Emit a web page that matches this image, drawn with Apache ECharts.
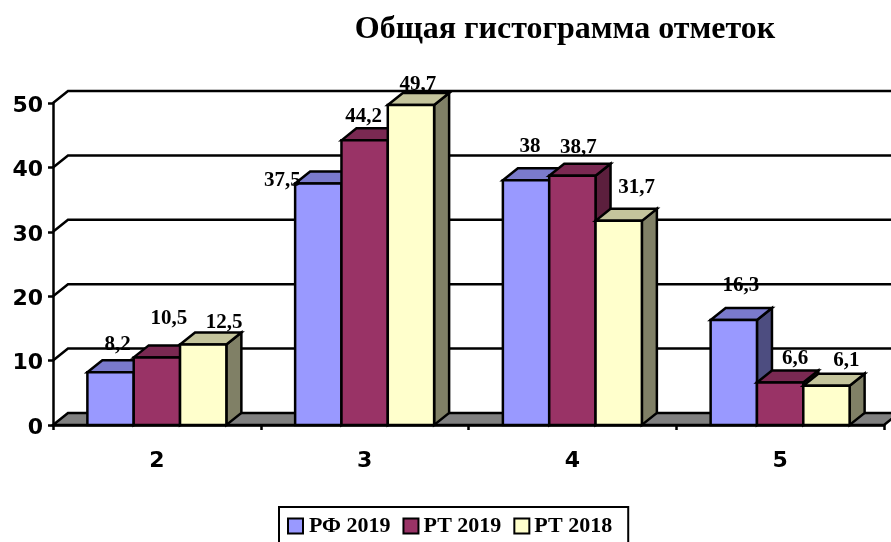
<!DOCTYPE html>
<html><head><meta charset="utf-8">
<style>html,body{margin:0;padding:0;background:#fff}#c{width:891px;height:542px}</style>
<script src="https://cdn.jsdelivr.net/npm/echarts@6/dist/echarts.min.js"></script>
</head><body><div id="c"></div>
<script>
const categories = ['2','3','4','5'];
const rf2019 = [8.2,37.5,38,16.3];
const rt2019 = [10.5,44.2,38.7,6.6];
const rt2018 = [12.5,49.7,31.7,6.1];
const gridValues = [0,10,20,30,40,50];
const names = ['РФ 2019','РТ 2019','РТ 2018'];

const FRONT = ['#9999FF','#993366','#FFFFCC'];
const TOP = ['#7a7acc','#7a2952','#c4c49c'];
const SIDE = ['#4d4d80','#5c1f3d','#808066'];
const DX = 15, DY = -12, BAR_RATIO = 0.223, LW = 2.5;
const LABEL_SHIFT = [
  [[7,-28],[-36,-3],[4,-34],[7,-34]],
  [[12,-39],[-1,-24],[6,-28],[15,-24]],
  [[21,-22],[7,-20],[18,-33],[20,-25]]
];
const SERIF = '"Liberation Serif","Times New Roman",serif';
const line = {stroke:'#000',lineWidth:LW};

function wallItem(params, api){
  const v = api.value(1), cs = params.coordSys;
  const y = api.coord([0,v])[1], xl = cs.x, xr = cs.x+cs.width;
  if (v === 0) {
    return {type:'polygon',silent:true,
      shape:{points:[[xl,y],[xl+DX,y+DY],[xr+DX,y+DY],[xr,y]]},
      style:{fill:'#808080',stroke:'#000',lineWidth:LW}};
  }
  return {type:'polyline',silent:true,
    shape:{points:[[xl,y],[xl+DX,y+DY],[xr+DX,y+DY]]},
    style:{fill:null,...line}};
}
function barItem(k){
  return function(params, api){
    const i = api.value(0), v = api.value(1);
    const band = api.size([1,0])[0], w = band*BAR_RATIO;
    const top = api.coord([i,v]), base = api.coord([i,0]);
    const x0 = top[0]+(k-1.5)*w, x1 = x0+w, y0 = top[1], y1 = base[1];
    const st = f => ({fill:f,stroke:'#000',lineWidth:LW,lineJoin:'miter'});
    return {type:'group',children:[
      {type:'polygon',shape:{points:[[x1,y0],[x1+DX,y0+DY],[x1+DX,y1+DY],[x1,y1]]},style:st(SIDE[k])},
      {type:'polygon',shape:{points:[[x0,y0],[x0+DX,y0+DY],[x1+DX,y0+DY],[x1,y0]]},style:st(TOP[k])},
      {type:'rect',shape:{x:x0,y:y0,width:w,height:y1-y0},style:st(FRONT[k])}
    ]};
  };
}
function labelItem(k){
  return function(params, api){
    const i = api.value(0), v = api.value(1);
    const w = api.size([1,0])[0]*BAR_RATIO, p = api.coord([i,v]);
    const s = LABEL_SHIFT[k][i];
    return {type:'text',silent:true,style:{
      x:p[0]+(k-1)*w+s[0],y:p[1]+s[1],text:String(v).replace('.',','),
      fill:'#000',align:'center',verticalAlign:'middle',
      font:'bold 21px '+SERIF}};
  };
}
const seriesData = [rf2019,rt2019,rt2018];
const series = [{type:'custom',name:'walls',z:1,silent:true,renderItem:wallItem,
  data:gridValues.map(v=>[0,v]),clip:false}];
seriesData.forEach((arr,k)=>series.push({type:'custom',name:names[k],z:3+k,clip:false,
  renderItem:barItem(k),itemStyle:{color:FRONT[k]},
  data:arr.map((v,i)=>[i,v])}));
seriesData.forEach((arr,k)=>series.push({type:'custom',name:'lbl'+k,z:10,clip:false,silent:true,
  renderItem:labelItem(k),data:arr.map((v,i)=>[i,v])}));

const legendText = pad => ({fontFamily:SERIF,fontWeight:'bold',fontSize:22,color:'#000',padding:[0,0,0,pad]});
const chart = echarts.init(document.getElementById('c'),null,{renderer:'canvas'});
chart.setOption({
  animation:false,
  backgroundColor:'#fff',
  title:{text:'Общая гистограмма отметок',left:560,top:9,textAlign:'center',
    textStyle:{fontFamily:SERIF,fontWeight:'bold',fontSize:32,color:'#000'}},
  grid:{left:53,top:103,width:831,height:322,containLabel:false},
  xAxis:{type:'category',data:categories,
    axisLine:{lineStyle:{color:'#000',width:LW}},
    axisTick:{show:true,length:5,lineStyle:{color:'#000',width:LW}},
    axisLabel:{margin:25,color:'#000',fontFamily:'"DejaVu Sans"',fontWeight:'bold',fontSize:22},
    z:8},
  yAxis:{type:'value',min:0,max:50,interval:10,
    axisLine:{show:true,lineStyle:{color:'#000',width:LW}},
    axisTick:{show:true,length:5,lineStyle:{color:'#000',width:LW}},
    splitLine:{show:false},
    axisLabel:{margin:10,verticalAlign:'top',lineHeight:6,color:'#000',fontFamily:'"DejaVu Sans"',fontWeight:'bold',fontSize:22}},
  legend:{data:[{name:names[0],textStyle:legendText(1)},{name:names[1],textStyle:legendText(0)},{name:names[2],textStyle:legendText(0)}],
    left:279,top:507,orient:'horizontal',selectedMode:false,
    itemWidth:15,itemHeight:15,itemGap:12,padding:[8,16,6,8],
    borderColor:'#000',borderWidth:2,backgroundColor:'#fff',
    icon:'rect',
    itemStyle:{borderColor:'#000',borderWidth:2},
    textStyle:legendText(0)},
  series
});
</script></body></html>
